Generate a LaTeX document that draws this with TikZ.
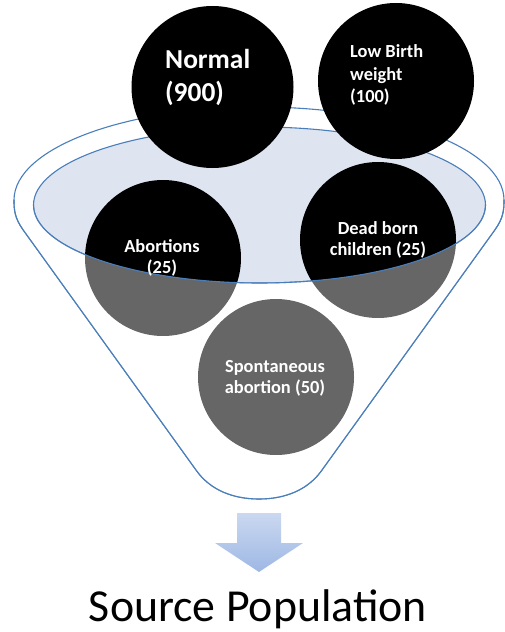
\documentclass[tikz,border=0pt]{standalone}
\usepackage{fontspec}
\setmainfont{Carlito}
\definecolor{funblue}{RGB}{74,126,187}
\definecolor{rimfill}{RGB}{222,229,241}
\definecolor{arrtop}{RGB}{202,216,240}
\definecolor{arrbot}{RGB}{158,184,228}
\begin{document}
\begin{tikzpicture}[x=1bp,y=-1bp,
  ring/.style={draw=funblue, line width=1.1bp},
  ball/.style={circle, fill=black, inner sep=0pt, minimum size=156bp},
  lab/.style={text=white, font=\bfseries\fontsize{18.5}{21}\selectfont, inner sep=0pt},
]
\useasboundingbox (0,0) rectangle (505,632);
% outer rim and funnel outline (behind the balls)
\draw[ring] (14,200) arc[start angle=180,end angle=360,x radius=245,y radius=93]
  .. controls (504,210) and (503.4,218) .. (494.8,230) -- (322,470)
  .. controls (308,490) and (285,499) .. (259,499)
  .. controls (233,499) and (210,490) .. (196,470) -- (23.2,230)
  .. controls (14.6,218) and (14,210) .. (14,200) -- cycle;
% inner rim ellipse
\draw[ring, fill=rimfill] (259.5,205) ellipse[x radius=226, y radius=78];
% balls
\node[ball, minimum size=162bp] (normal) at (212.5,87) {};
\node[ball] (lbw) at (396,81) {};
\node[ball] (abo) at (163,258) {};
\node[ball] (dead) at (378,240) {};
\node[ball] (spont) at (276,377) {};
% translucent funnel body
\fill[white, opacity=0.4] (33.5,205) arc[start angle=180,end angle=0,x radius=226,y radius=78]
  -- (504,205) -- (494.8,230) -- (322,470)
  .. controls (308,490) and (285,499) .. (259,499)
  .. controls (233,499) and (210,490) .. (196,470) -- (23.2,230) -- (14,205) -- cycle;
% front outlines
\draw[ring] (33.5,205) arc[start angle=180,end angle=0,x radius=226,y radius=78];
\draw[ring] (504,200) .. controls (504,210) and (503.4,218) .. (494.8,230) -- (322,470)
  .. controls (308,490) and (285,499) .. (259,499)
  .. controls (233,499) and (210,490) .. (196,470) -- (23.2,230)
  .. controls (14.6,218) and (14,210) .. (14,200);
% labels (base anchor = baseline of the last line)
\node[lab, font=\bfseries\fontsize{27.5}{34}\selectfont, align=left, anchor=base west] (normaltext) at (165,102) {Normal\\(900)};
\node[lab, font=\bfseries\fontsize{18.5}{23}\selectfont, align=left, anchor=base west] (lbwtext) at (350,103) {Low Birth\\weight\\(100)};
\node[lab, align=center, anchor=base] (abotext) at (162,273) {Abortions\\(25)};
\node[lab, align=center, anchor=base] (deadtext) at (378,255) {Dead born\\children (25)};
\node[lab, align=center, anchor=base] (sponttext) at (275,393) {Spontaneous\\abortion (50)};
% arrow
\shade[top color=arrtop, bottom color=arrbot] (237,513) -- (281,513) -- (281,543) -- (303,543)
  -- (259,572) -- (215,543) -- (237,543) -- cycle;
\node[font=\fontsize{46}{50}\selectfont, anchor=base, inner sep=0pt] (src) at (258,621) {Source Population};
\end{tikzpicture}
\end{document}
